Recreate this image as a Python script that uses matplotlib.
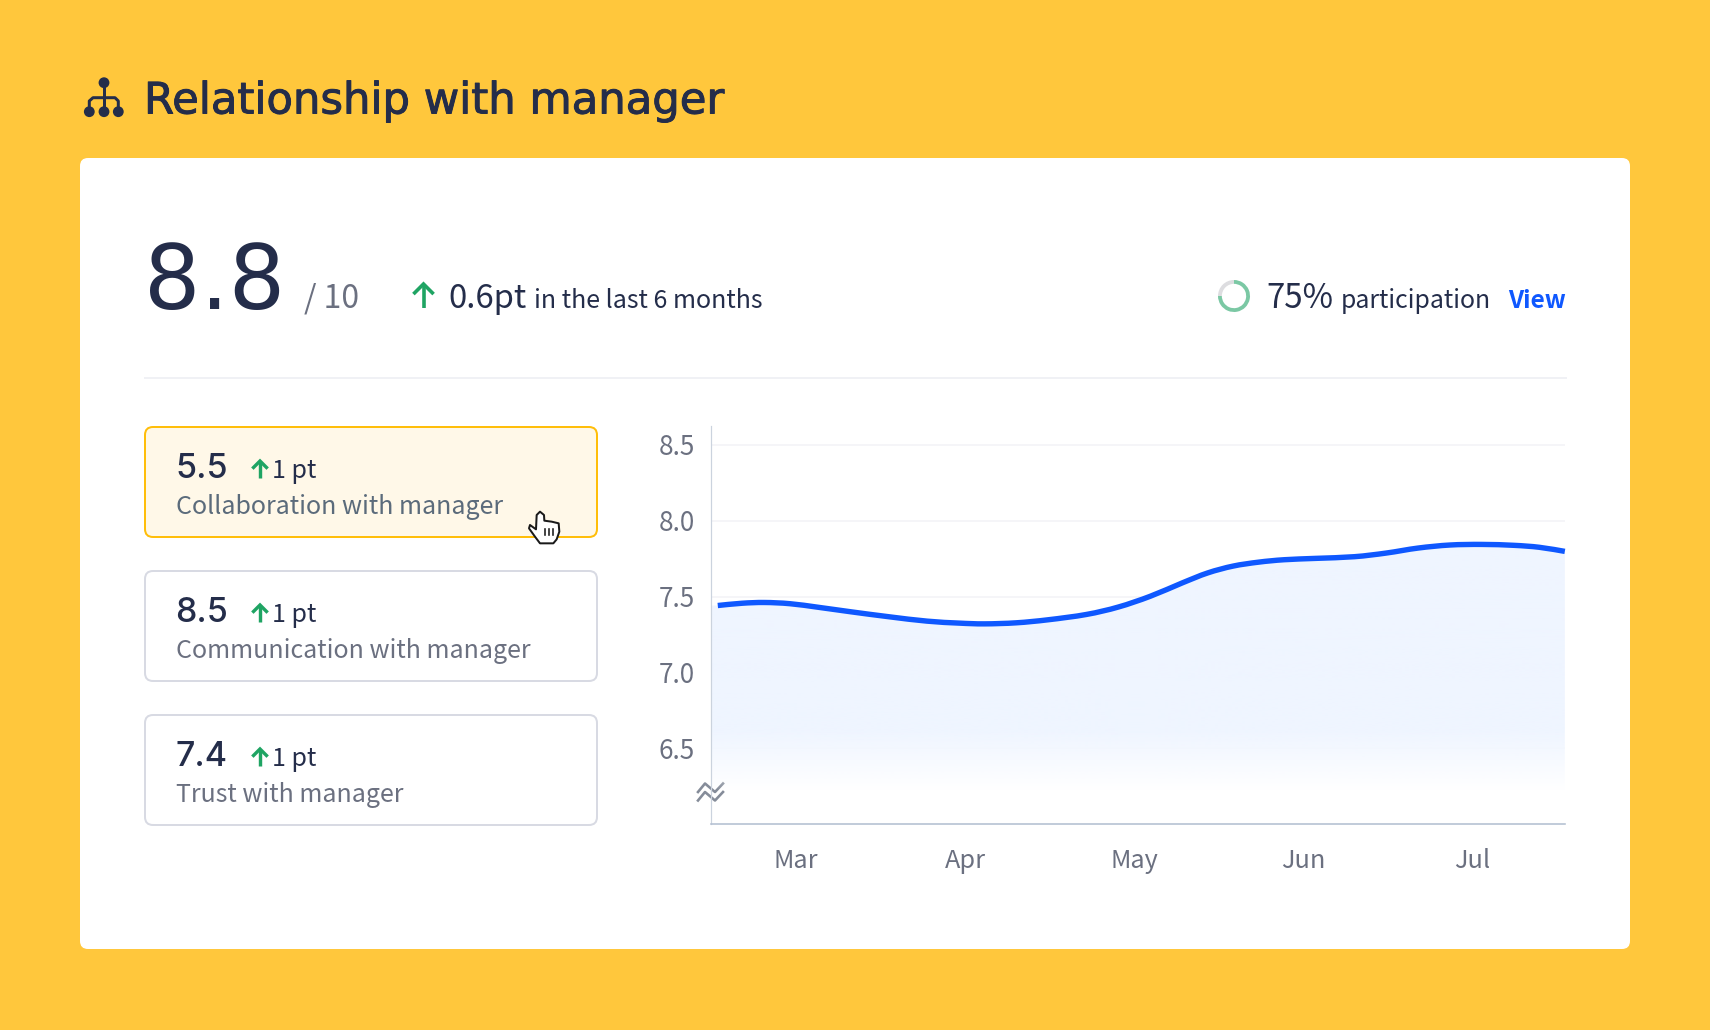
#!/usr/bin/env python3
"""Relationship with manager score card"""

import matplotlib
matplotlib.use('Agg')
import matplotlib.pyplot as plt
import matplotlib.patheffects as pe
from matplotlib.patches import FancyBboxPatch, Circle, Polygon, PathPatch
from matplotlib.path import Path
import numpy as np

BODY = ['Noto Sans CJK SC', 'DejaVu Sans']
HEAD = ['DejaVu Sans']
CARD = ['Inter', 'DejaVu Sans']
INK = '#242D4A'
GREY = '#6B7080'
GREEN = '#1FA463'
BLUE = '#0F58FF'

# values
overall_score = '8.8'
overall_max = '/ 10'
overall_change = '0.6pt'
overall_note = 'in the last 6 months'
participation = [75, 25]
scores = ['5.5', '8.5', '7.4']
changes = ['1 pt', '1 pt', '1 pt']
labels = ['Collaboration with manager', 'Communication with manager', 'Trust with manager']
months = ['Mar', 'Apr', 'May', 'Jun', 'Jul']
y_ticks = [6.5, 7.0, 7.5, 8.0, 8.5]
curve_pos = [-0.463, -0.319, -0.187, -0.036, 0.134, 0.322, 0.549, 0.775, 0.964, 1.115,
             1.304, 1.492, 1.718, 1.907, 2.096, 2.285, 2.436, 2.586, 2.737, 2.888,
             3.077, 3.304, 3.492, 3.681, 3.869, 4.058, 4.247, 4.398, 4.549]
curve_values = [7.441, 7.456, 7.461, 7.453, 7.429, 7.400, 7.367, 7.338, 7.325, 7.320,
                7.327, 7.347, 7.382, 7.431, 7.502, 7.590, 7.656, 7.701, 7.727, 7.743,
                7.752, 7.763, 7.787, 7.820, 7.840, 7.844, 7.838, 7.825, 7.798]

W, H = 1710, 1030
PX = 0.72  # one pixel in points at dpi 100

fig = plt.figure(figsize=(W / 100, H / 100), dpi=100, facecolor='#FFC73C')
bg = fig.add_axes([0, 0, 1, 1])
bg.set_xlim(0, W)
bg.set_ylim(H, 0)
bg.axis('off')


def txt(x, y, s, size, color=INK, family=BODY, **kw):
    return bg.text(x, y, s, fontsize=size, color=color, family=family, va='baseline', **kw)


def box(x0, y0, x1, y1, radius, face, edge, lw):
    bg.add_patch(FancyBboxPatch((x0, y0), x1 - x0, y1 - y0,
                                boxstyle=f'round,pad=0,rounding_size={radius}',
                                facecolor=face, edgecolor=edge, linewidth=lw * PX))


def up_arrow(x, top, bottom, lw, spread=0.42):
    head = (bottom - top) * spread
    bg.plot([x, x], [top + 1, bottom], color=GREEN, lw=lw * PX, solid_capstyle='butt')
    bg.plot([x - head, x, x + head], [top + head, top, top + head], color=GREEN,
            lw=lw * PX, solid_capstyle='butt', solid_joinstyle='miter')


def smooth_path(xs, ys):
    pts = np.column_stack([xs, ys])
    verts = [pts[0]]
    codes = [Path.MOVETO]
    for i in range(len(pts) - 1):
        before = pts[max(i - 1, 0)]
        after = pts[min(i + 2, len(pts) - 1)]
        verts += [pts[i] + (pts[i + 1] - before) / 6, pts[i + 1] - (after - pts[i]) / 6, pts[i + 1]]
        codes += [Path.CURVE4] * 3
    return Path(verts, codes)


def draw_header():
    # org icon
    bg.plot([104, 104], [83, 112], color=INK, lw=3 * PX)
    bg.plot([89.3, 89.3, 93, 115, 118.3, 118.3], [112, 101, 97.7, 97.7, 101, 112], color=INK, lw=3 * PX)
    for x, y in [(104, 82.7), (89.3, 111.7), (104, 111.7), (118.3, 111.7)]:
        bg.add_patch(Circle((x, y), 5.4, facecolor=INK, edgecolor='none'))
    title = txt(144, 113.5, 'Relationship with manager', 31.2, family=HEAD)
    title.set_path_effects([pe.withStroke(linewidth=0.7, foreground=INK)])


def draw_summary():
    box(80, 158, 1630, 949, 8, 'white', 'none', 0)
    txt(144, 309, overall_score, 64, family=HEAD)
    txt(304, 308, overall_max, 23, color=GREY)
    up_arrow(423.5, 284, 308, 3.6)
    txt(448, 308, overall_change, 23.6)
    txt(534, 308, overall_note, 18)
    bg.plot([145, 1566], [378, 378], color='#F0F1F5', lw=2 * PX)

    ring = fig.add_axes([(1234 - 16) / W, 1 - (296 + 16) / H, 32 / W, 32 / H])
    ring.pie(participation, colors=['#7BC8A4', '#DDDDE0'], startangle=90, counterclock=False,
             radius=1.0, wedgeprops={'width': 0.24})
    ring.set_xlim(-1, 1)
    ring.set_ylim(-1, 1)

    txt(1266, 308, '75%', 23.8)
    txt(1341, 308, 'participation', 17.9)
    txt(1508, 308, 'View', 17.6, color=BLUE, fontweight='bold')


def draw_cards():
    for i, (score, change, label) in enumerate(zip(scores, changes, labels)):
        top = 427 + i * 144
        if i == 0:
            box(145, top, 597, top + 110, 8, '#FFF8E8', '#FFBE0A', 2)
        else:
            box(145, top, 597, top + 110, 8, 'white', '#D8DAE3', 2)
        txt(175, top + 51, score, 24.5, family=CARD, fontweight='medium')
        up_arrow(260, top + 34, top + 51, 3.4, spread=0.45)
        txt(272, top + 50.5, change, 18)
        txt(176, top + 86.5, label, 18, color='#5B6B7B' if i == 0 else GREY)


def draw_cursor():
    hand = [(80, 75), (90, 65), (102, 75), (103, 92), (125, 95), (146, 100), (148, 125),
            (140, 148), (130, 160), (90, 160), (75, 140), (57, 115), (60, 105), (78, 118)]
    pts = [(510 + x / 3, 490 + y / 3) for x, y in hand]
    bg.add_patch(Polygon(pts, closed=True, facecolor='white', edgecolor='#1A1A1A',
                         linewidth=2 * PX, joinstyle='round', zorder=6))
    for zx in [105, 117, 129]:
        bg.plot([510 + zx / 3] * 2, [490 + 118 / 3, 490 + 135 / 3], color='#1A1A1A', lw=1.6 * PX, zorder=7)


def draw_chart():
    ax = fig.add_axes([710.5 / W, 1 - 824 / H, (1565 - 710.5) / W, (824 - 426) / H])
    ax.patch.set_alpha(0)
    x_lo, x_hi = -0.506, 4.55
    y_lo, y_hi = 6.0, 8.625
    ax.set_xlim(x_lo, x_hi)
    ax.set_ylim(y_lo, y_hi)

    for s in ['top', 'right']:
        ax.spines[s].set_visible(False)
    ax.spines['left'].set_color('#CBD3DE')
    ax.spines['left'].set_linewidth(1.2 * PX)
    ax.spines['bottom'].set_color('#B4C0D2')
    ax.spines['bottom'].set_linewidth(1.6 * PX)

    ax.set_yticks(y_ticks)
    ax.set_yticklabels([f'{v:.1f}' for v in y_ticks], family=BODY, fontsize=18.8, color=GREY)
    ax.set_xticks(range(len(months)))
    ax.set_xticklabels(months, family=BODY, fontsize=18.2, color=GREY)
    ax.tick_params(axis='y', length=0, pad=11)
    ax.tick_params(axis='x', length=0, pad=17)
    ax.grid(axis='y', color='#F2F3F6', lw=1.5 * PX, zorder=0)
    ax.set_axisbelow(True)

    # area under the line, fades out towards the axis break
    fill_x = [x_lo] + curve_pos
    fill_y = [curve_values[0]] + curve_values
    poly = ax.fill_between(fill_x, fill_y, y_lo, facecolor='none', edgecolor='none')
    ramp = np.clip((np.linspace(y_hi, y_lo, 400) - 6.22) / (6.62 - 6.22), 0, 1)
    rgba = np.ones((400, 1, 4))
    rgba[..., 0] = 0xEF / 255
    rgba[..., 1] = 0xF5 / 255
    rgba[..., 2] = 1.0
    rgba[:, 0, 3] = ramp
    # white under the tint so gridlines stay hidden
    under = np.ones((400, 1, 4))
    under[:, 0, 3] = ramp
    for layer in (under, rgba):
        im = ax.imshow(layer, extent=[x_lo, x_hi, y_lo, y_hi], aspect='auto', zorder=1.5)
        im.set_clip_path(poly.get_paths()[0], transform=ax.transData)
    ax.set_xlim(x_lo, x_hi)
    ax.set_ylim(y_lo, y_hi)

    ax.add_patch(PathPatch(smooth_path(curve_pos, curve_values), facecolor='none', edgecolor=BLUE,
                           lw=5.4 * PX, clip_on=False, zorder=3, capstyle='butt', joinstyle='round'))

    # axis break mark
    for off in (0, 8.5):
        bg.plot([698, 705, 715, 723], [792 + off, 783.5 + off, 792 + off, 783.5 + off],
                color='#858C99', lw=2.6 * PX, zorder=5, clip_on=False)


def main():
    draw_header()
    draw_summary()
    draw_cards()
    draw_chart()
    draw_cursor()
    fig.savefig('out.png', dpi=100, facecolor=fig.get_facecolor())


if __name__ == '__main__':
    main()
